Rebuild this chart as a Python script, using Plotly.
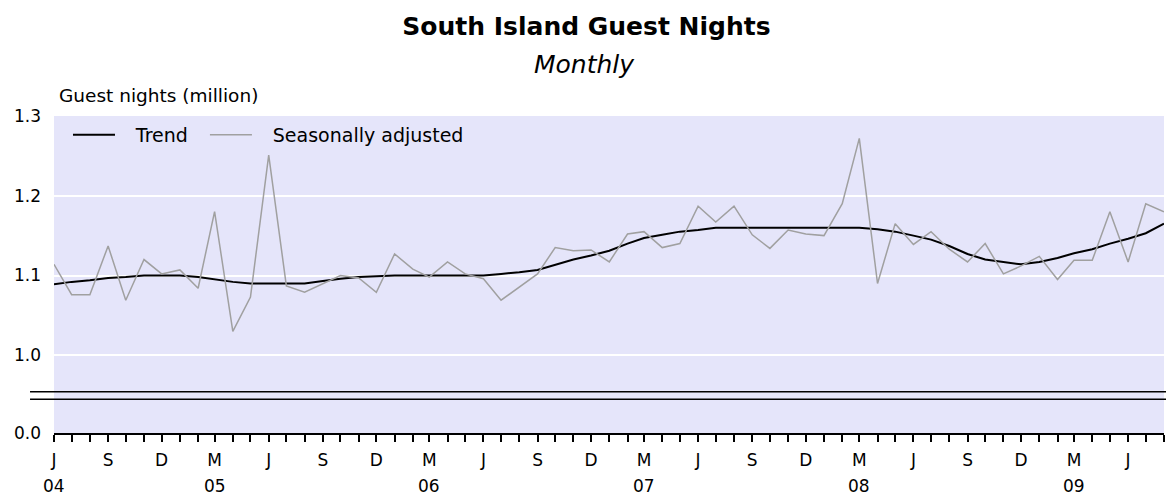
import pandas as pd
import plotly.graph_objects as go

# ---- data (monthly, Jun 2004 - Aug 2009) ----
months = pd.date_range("2004-06-01", periods=63, freq="MS")

seasonally_adjusted = [
    1.114, 1.076, 1.076, 1.137, 1.069, 1.120, 1.102, 1.107, 1.084, 1.180,
    1.030, 1.073, 1.251, 1.087, 1.079, 1.090, 1.100, 1.097, 1.079, 1.127,
    1.108, 1.098, 1.117, 1.102, 1.096, 1.069, 1.085, 1.102, 1.135, 1.131,
    1.132, 1.117, 1.152, 1.155, 1.135, 1.140, 1.187, 1.167, 1.187, 1.151,
    1.134, 1.157, 1.152, 1.150, 1.190, 1.272, 1.090, 1.165, 1.139, 1.155,
    1.133, 1.117, 1.140, 1.102, 1.112, 1.124, 1.095, 1.119, 1.119, 1.180,
    1.117, 1.190, 1.180,
]

trend = [
    1.089, 1.092, 1.094, 1.097, 1.098, 1.100, 1.100, 1.100, 1.098, 1.095,
    1.092, 1.090, 1.090, 1.090, 1.090, 1.093, 1.096, 1.098, 1.099, 1.100,
    1.100, 1.100, 1.100, 1.100, 1.100, 1.102, 1.104, 1.107, 1.113, 1.120,
    1.125, 1.131, 1.140, 1.147, 1.151, 1.155, 1.157, 1.160, 1.160, 1.160,
    1.160, 1.160, 1.160, 1.160, 1.160, 1.160, 1.158, 1.155, 1.150, 1.145,
    1.137, 1.127, 1.120, 1.117, 1.114, 1.117, 1.122, 1.128, 1.133, 1.140,
    1.146, 1.153, 1.165,
]

month_letters = {6: "J", 9: "S", 12: "D", 3: "M"}
year_label_months = ["2004-06-01", "2005-03-01", "2006-03-01", "2007-03-01",
                     "2008-03-01", "2009-03-01"]
year_labels = ["04", "05", "06", "07", "08", "09"]

# broken y axis: the bottom of the plot stands for 0.0
y_break_bottom = 0.9025
y_tickvals = [y_break_bottom, 1.0, 1.1, 1.2, 1.3]
y_ticktext = ["0.0", "1.0", "1.1", "1.2", "1.3"]
break_lines = [0.9543, 0.9448]

FONT = "DejaVu Sans"
NB = "\u00a0"
THIN = "\u2009"

x_ticktext = [month_letters.get(m.month, "") for m in months]

fig = go.Figure()
fig.add_trace(go.Scatter(
    x=months, y=trend, mode="lines",
    name=NB + NB + THIN + "Trend" + NB + NB,
    line=dict(color="#000000", width=2),
))
fig.add_trace(go.Scatter(
    x=months, y=seasonally_adjusted, mode="lines",
    name=NB + NB + THIN + "Seasonally adjusted",
    line=dict(color="#A0A0A0", width=1.5),
))

for yv in break_lines:
    fig.add_shape(type="line", xref="paper", yref="y",
                  x0=-0.0216, x1=1.01, y0=yv, y1=yv,
                  line=dict(color="#000000", width=1.5), layer="above")

for xv, t in zip(year_label_months, year_labels):
    fig.add_annotation(x=xv, y=-0.167, xref="x", yref="paper", text=t,
                       showarrow=False, font=dict(family=FONT, size=17, color="#000"),
                       xanchor="center", yanchor="middle")

fig.add_annotation(x=0.0027, y=1.066, xref="paper", yref="paper",
                   text="Guest nights (million)", showarrow=False,
                   xanchor="left", yanchor="middle",
                   font=dict(family=FONT, size=18.5, color="#000"))

fig.add_annotation(x=0.4775, y=1.164, xref="paper", yref="paper",
                   text="<i>Monthly</i>", showarrow=False,
                   xanchor="center", yanchor="middle",
                   font=dict(family=FONT, size=25, color="#000"))

fig.update_layout(
    width=1166, height=495,
    margin=dict(l=54, r=2, t=116, b=62),
    paper_bgcolor="#FFFFFF",
    plot_bgcolor="#E5E5FA",
    title=dict(text="<b>South Island Guest Nights</b>", x=0.503, xanchor="center",
               y=1 - 26 / 495, yanchor="middle", yref="container",
               font=dict(family=FONT, size=25, color="#000")),
    showlegend=True,
    legend=dict(orientation="h", x=0.0126, y=1.0, xanchor="left", yanchor="top",
                bgcolor="rgba(0,0,0,0)", font=dict(family=FONT, size=19, color="#000"),
                itemwidth=42),
    xaxis=dict(
        range=[months[0], months[-1]],
        tickvals=months, ticktext=x_ticktext,
        ticks="outside", ticklen=7, tickwidth=1.5, tickcolor="#000",
        showline=True, linecolor="#000", linewidth=1.5,
        showgrid=False, zeroline=False,
        tickfont=dict(family=FONT, size=17, color="#000"),
        ticklabelstandoff=4,
    ),
    yaxis=dict(
        range=[y_break_bottom, 1.3],
        tickvals=y_tickvals, ticktext=y_ticktext,
        showgrid=True, gridcolor="#FFFFFF", gridwidth=1.5,
        showline=False, ticks="", zeroline=False,
        tickfont=dict(family=FONT, size=17, color="#000"),
        ticklabelstandoff=12,
    ),
)

fig.write_html(
    "out.html",
    config={"displayModeBar": False},
    post_script="document.body.style.margin='0';document.body.style.overflow='hidden';",
)
